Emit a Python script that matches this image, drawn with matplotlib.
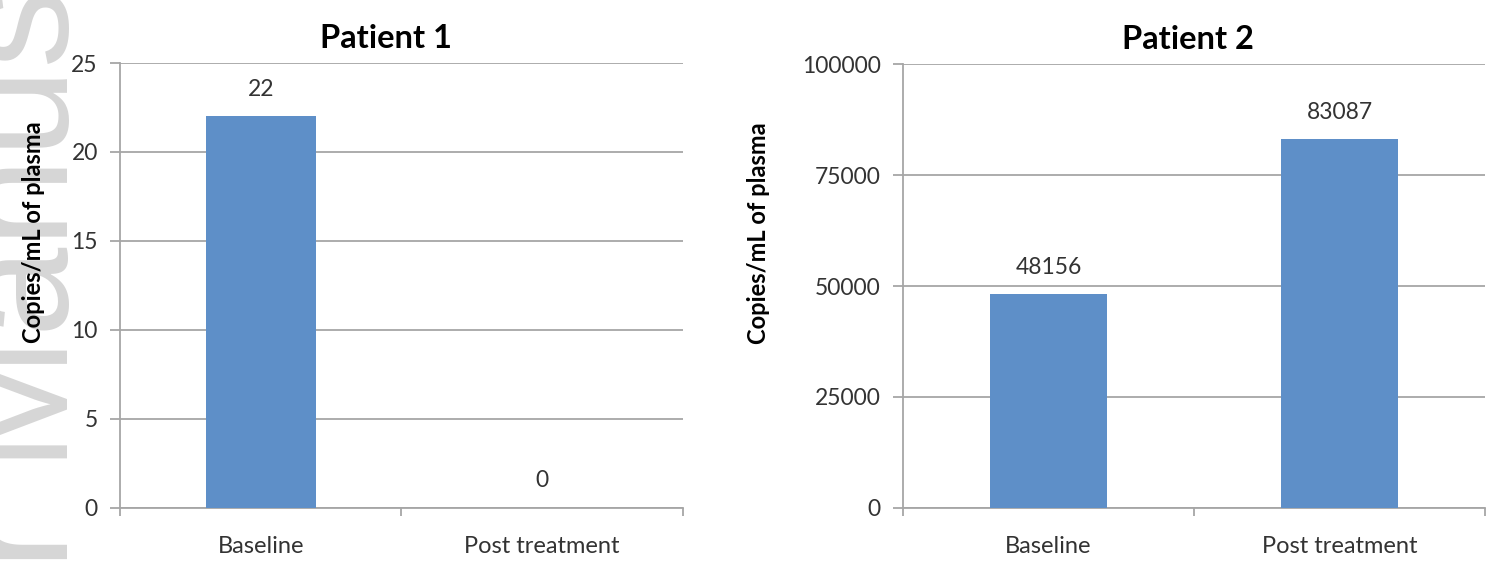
import matplotlib.pyplot as plt
import numpy as np

# data
categories = ['Baseline', 'Post treatment']
patient1 = [22, 0]
patient2 = [48156, 83087]
p1_ticks = [0, 5, 10, 15, 20, 25]
p2_ticks = [0, 25000, 50000, 75000, 100000]

plt.rcParams['font.family'] = ['Lato', 'DejaVu Sans']

bar_col = '#5E8FC8'
grid_col = '#A6A6A6'
txt_col = '#333333'

fig = plt.figure(figsize=(14.87, 5.62), dpi=100)

# watermark on the left edge (cut off by the figure border)
fig.text(68 / 1487, 0.505, 'r Manus', rotation=90, rotation_mode='anchor',
         ha='center', va='baseline', fontsize=116, color='#D6D6D6',
         family='Liberation Sans', zorder=-1)

ax1 = fig.add_axes([0.0807, 0.0961, 0.3786, 0.7918])
ax2 = fig.add_axes([0.6073, 0.0961, 0.3914, 0.7900])


def style(ax, vals, ticks, title, width, ylab_x, title_x):
    x = np.arange(len(categories))
    ax.bar(x, vals, width=width, color=bar_col, zorder=3)
    ax.set_xlim(-0.5, len(categories) - 0.5)
    ax.set_ylim(ticks[0], ticks[-1])
    ax.set_yticks(ticks)
    ax.set_yticklabels([str(t) for t in ticks])
    ax.set_xticks(x)
    ax.set_xticklabels(categories)
    ax.set_xticks(np.arange(-0.5, len(categories)), minor=True)
    ax.tick_params(axis='x', which='major', length=0, pad=20, labelsize=17, labelcolor=txt_col)
    ax.tick_params(axis='x', which='minor', length=6, color=grid_col, width=1.3)
    ax.tick_params(axis='y', length=7, color=grid_col, width=1.3, pad=9,
                   labelsize=16.5, labelcolor=txt_col)
    ax.yaxis.grid(True, color=grid_col, linewidth=1.3, zorder=0)
    ax.set_axisbelow(True)
    for s in ['top', 'right']:
        ax.spines[s].set_visible(False)
    for s in ['left', 'bottom']:
        ax.spines[s].set_color(grid_col)
        ax.spines[s].set_linewidth(1.3)
    ax.set_title(title, fontsize=23.5, fontweight='bold', pad=11, x=title_x)
    ax.set_ylabel('Copies/mL of plasma', fontsize=17, fontweight='bold')
    ax.yaxis.set_label_coords(ylab_x, 0.62)
    for xi, v in zip(x, vals):
        ax.annotate(str(v), (xi, v), xytext=(0, 27), textcoords='offset pixels',
                    ha='center', va='center', fontsize=16.5, color=txt_col)


style(ax1, patient1, p1_ticks, 'Patient 1', 0.39, -0.133, 0.4725)
style(ax2, patient2, p2_ticks, 'Patient 2', 0.40, -0.2285, 0.49)

fig.savefig('out.png', dpi=100)
